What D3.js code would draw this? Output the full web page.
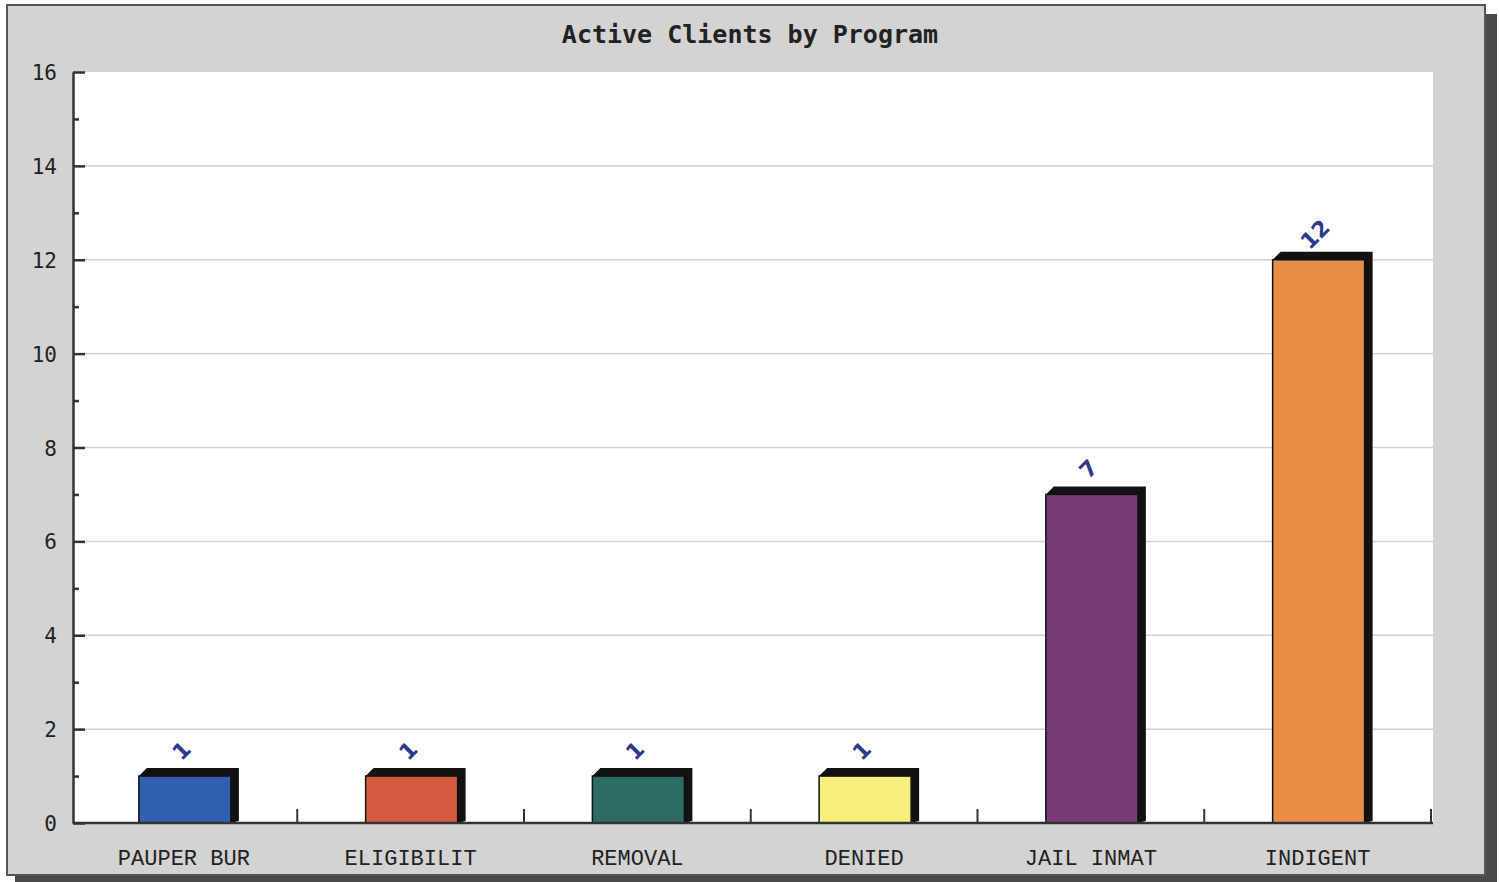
<!DOCTYPE html>
<html><head><meta charset="utf-8">
<script src="https://cdn.jsdelivr.net/npm/d3@7/dist/d3.min.js"></script>
<style>body{margin:0;background:#fff;}svg{display:block;}</style>
</head><body>
<svg id="chart" width="1499" height="882"></svg>
<script>
const title = "Active Clients by Program";
const categories = ["PAUPER BUR","ELIGIBILIT","REMOVAL","DENIED","JAIL INMAT","INDIGENT"];
const values = [1,1,1,1,7,12];
const colors = ["#2f5fae","#d65a40","#2d6b66","#f8ee7c","#7a3a78","#e88d46"];
const yTicks = [0,2,4,6,8,10,12,14,16];

const svg = d3.select("#chart");
const m = {left:73, right:1433, top:72, bottom:823};

// outer panel with shadow
svg.append("rect").attr("x",15).attr("y",14).attr("width",1482).attr("height",868).attr("fill","#4a4a4a");
svg.append("rect").attr("x",7).attr("y",5).attr("width",1478).attr("height",870)
  .attr("fill","#d3d3d3").attr("stroke","#555").attr("stroke-width",2);

// plot area
svg.append("rect").attr("x",m.left).attr("y",m.top).attr("width",m.right-m.left).attr("height",m.bottom-m.top).attr("fill","#ffffff");

const x = d3.scaleBand().domain(categories).range([70.5,1431]).padding(0);
const y = d3.scaleLinear().domain([0,16]).range([m.bottom,m.top]);

// gridlines
svg.append("g").selectAll("line").data(yTicks.filter(d=>d>0&&d<16)).join("line")
  .attr("x1",m.left).attr("x2",m.right).attr("y1",d=>y(d)).attr("y2",d=>y(d))
  .attr("stroke","#d6cdd6").attr("stroke-width",1.5);

// y axis
const yAxis = d3.axisRight(y).tickValues(d3.range(0,17,1)).tickSize(0).tickFormat("");
const gy = svg.append("g").attr("transform",`translate(${m.left},0)`).call(yAxis);
gy.select(".domain").attr("stroke","#333").attr("stroke-width",2.5);
gy.selectAll(".tick line").attr("x2",d=>d%2===0?12:6).attr("stroke","#333").attr("stroke-width",2.5);
svg.append("g").selectAll("text").data(yTicks).join("text")
  .attr("x",57).attr("y",d=>y(d)+8).attr("text-anchor","end")
  .attr("font-family","DejaVu Sans Mono, monospace").attr("font-size",21).attr("fill","#222")
  .text(d=>d);

// bars with 3D shadow
const depth = 8, bw = 92;
const bx = c => x(c) + x.bandwidth()/2 - 45;
const bars = svg.append("g").selectAll("g").data(values).join("g");
bars.append("path")
  .attr("d",(d,i)=>{
    const x0 = bx(categories[i]), x1 = x0+bw, yt = y(d), yb = y(0);
    return `M${x0},${yt} L${x0+depth},${yt-depth} L${x1+depth},${yt-depth} L${x1+depth},${yb-2} L${x1},${yb} L${x1},${yt} Z`;
  }).attr("fill","#111");
bars.append("rect")
  .attr("x",(d,i)=>bx(categories[i]))
  .attr("y",d=>y(d)).attr("width",bw).attr("height",d=>y(0)-y(d))
  .attr("fill",(d,i)=>colors[i]).attr("stroke","#111").attr("stroke-width",1.5);

// x axis
svg.append("line").attr("x1",m.left).attr("x2",m.right).attr("y1",m.bottom).attr("y2",m.bottom).attr("stroke","#333").attr("stroke-width",2.5);
svg.append("g").selectAll("line").data(categories.slice(1).map(c=>x(c)).concat([1431])).join("line")
  .attr("x1",d=>d).attr("x2",d=>d).attr("y1",m.bottom).attr("y2",m.bottom-14)
  .attr("stroke","#333").attr("stroke-width",2);
svg.append("g").selectAll("text").data(categories).join("text")
  .attr("x",d=>x(d)+x.bandwidth()/2).attr("y",865).attr("text-anchor","middle")
  .attr("font-family","Liberation Mono, DejaVu Sans Mono, monospace").attr("font-size",22).attr("fill","#222")
  .text(d=>d);

// value labels (rotated)
svg.append("g").selectAll("text").data(values).join("text")
  .attr("transform",(d,i)=>`translate(${bx(categories[i])+48},${y(d)-20}) rotate(-45)`)
  .attr("text-anchor","middle")
  .attr("font-family","DejaVu Sans, sans-serif").attr("font-weight","bold").attr("font-size",22).attr("fill","#2b3a8c")
  .text(d=>d);

// title
svg.append("text").attr("x",750).attr("y",43).attr("text-anchor","middle")
  .attr("font-family","DejaVu Sans Mono, monospace").attr("font-weight","bold").attr("font-size",25).attr("fill","#222")
  .text(title);
</script>
</body></html>
